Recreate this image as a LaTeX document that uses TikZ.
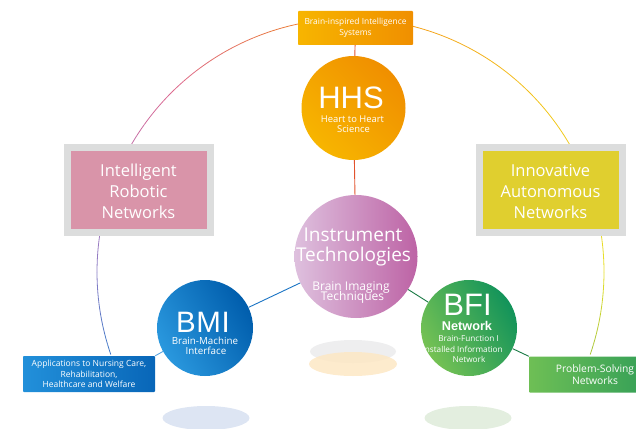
\documentclass[tikz,border=0pt]{standalone}
\usepackage{fontspec}
\setmainfont{Open Sans}
\newfontfamily\headf{Liberation Sans}
\usetikzlibrary{calc}

\definecolor{orgL}{HTML}{F7B500}
\definecolor{orgD}{HTML}{F08F00}
\definecolor{redcon}{HTML}{E2532D}
\definecolor{instL}{HTML}{DEC0DE}
\definecolor{instD}{HTML}{BD63A5}
\definecolor{bmiL}{HTML}{2A98DE}
\definecolor{bmiD}{HTML}{005DAC}
\definecolor{appL}{HTML}{2290DA}
\definecolor{appD}{HTML}{0866B8}
\definecolor{bfiL}{HTML}{76C254}
\definecolor{bfiD}{HTML}{12935A}
\definecolor{psL}{HTML}{6EBF55}
\definecolor{psD}{HTML}{2E9C58}
\definecolor{pinkbox}{HTML}{D994A9}
\definecolor{yelbox}{HTML}{E0CF2F}
\definecolor{frame}{HTML}{DCDDDD}
\definecolor{ringA}{HTML}{A5C43A}
\definecolor{ringB}{HTML}{E6E02A}
\definecolor{ringC}{HTML}{F2C51A}
\definecolor{ringD}{HTML}{F4A21C}
\definecolor{ringE}{HTML}{EA7A3A}
\definecolor{ringF}{HTML}{DC6890}
\definecolor{ringG}{HTML}{B476B8}
\definecolor{ringH}{HTML}{8C7CC4}
\definecolor{ringI}{HTML}{3C78C8}
\definecolor{shBlue}{HTML}{DDE5F3}
\definecolor{shGreen}{HTML}{E3EEDF}
\definecolor{shGrey}{HTML}{EEEEEF}
\definecolor{shOrg}{HTML}{FDE7C4}
\definecolor{bluecon}{HTML}{1B74C4}
\definecolor{bluecon2}{HTML}{5AA5E0}
\definecolor{greencon}{HTML}{1A7A45}

\newcommand\ringpiece[4]{%
  \foreach \i in {0,...,7}{%
    \pgfmathsetmacro\sa{-(#1+(#2-#1)*\i/8)}%
    \pgfmathsetmacro\ea{-(#1+(#2-#1)*(\i+1)/8)}%
    \pgfmathtruncatemacro\pp{100-(\i*100+50)/8}%
    \draw[ringline, draw=#3!\pp!#4] (ctr) ++(\sa:253.5) arc[start angle=\sa, end angle=\ea, radius=253.5];
  }}

\begin{document}
\begin{tikzpicture}[x=1pt,y=-1pt,
  ringline/.style={line width=0.8pt, line cap=butt},
  txt/.style={text=white, inner sep=0pt, anchor=base},
  bigcirc/.style={circle, inner sep=0pt, draw=none},
  conline/.style={line width=0.9pt},
  framebox/.style={rectangle, fill=frame, minimum width=150pt, minimum height=92pt, inner sep=0pt},
  innerbox/.style={rectangle, minimum width=136pt, minimum height=78pt, inner sep=0pt},
  smallbox/.style={rectangle, minimum width=132pt, minimum height=36pt, inner sep=0pt, text=white, align=center, rounded corners=0.8pt},
  boxfont/.style={font=\fontsize{16.5}{21}\selectfont},
  headfont/.style={font=\headf\fontsize{31}{31}\selectfont, text depth=0pt}
]
\useasboundingbox (0,0) rectangle (636,428);
\clip (0,0) rectangle (636,428);

% shadow ellipses
\fill[shBlue] (206,418) ellipse [x radius=43.5, y radius=12];
\fill[shGreen] (468,418) ellipse [x radius=43.5, y radius=12];
\fill[shGrey] (353,351.5) ellipse [x radius=43, y radius=11.5];
\fill[shOrg, opacity=0.85] (353,364) ellipse [x radius=44, y radius=12];

% big ring
\coordinate (ctr) at (350.5,272);
\ringpiece{-19}{0}{ringA}{ringB}
\ringpiece{0}{40}{ringB}{ringC}
\ringpiece{40}{75}{ringC}{ringD}
\ringpiece{75}{105}{ringD}{ringE}
\ringpiece{105}{135}{ringE}{ringF}
\ringpiece{135}{160}{ringF}{ringG}
\ringpiece{160}{180}{ringG}{ringH}
\ringpiece{180}{199}{ringH}{ringI}

% side boxes
\node[framebox] (irnF) at (139,190) {};
\node[innerbox, fill=pinkbox] (irn) at (139,190) {};
\node[txt, boxfont] (irn1) at (138.5,176.7) {Intelligent};
\node[txt, boxfont] (irn2) at (138.5,197.7) {Robotic};
\node[txt, boxfont] (irn3) at (138.5,218.3) {Networks};

\node[framebox] (ianF) at (550.5,190) {};
\node[innerbox, fill=yelbox] (ian) at (551,190) {};
\node[txt, boxfont] (ian1) at (550.5,176.7) {Innovative};
\node[txt, boxfont] (ian2) at (550.5,197.7) {Autonomous};
\node[txt, boxfont] (ian3) at (550.5,218.3) {Networks};

% top box
\node[smallbox, minimum width=115pt, minimum height=34pt, left color=orgL, right color=orgD,
      font=\fontsize{8.4}{10.7}\selectfont] (top) at (355.5,28) {Brain-inspired Intelligence\\Systems};

% HHS
\node[bigcirc, minimum size=104pt, left color=orgL, right color=orgD, shading angle=135] (hhs) at (353.5,108) {};
\node[txt, headfont] (hhsT) at (351,108.3) {HHS};
\node[txt, font=\fontsize{9.4}{10}\selectfont] (hhs1) at (352.5,122.7) {Heart to Heart};
\node[txt, font=\fontsize{9.4}{10}\selectfont] (hhs2) at (353.5,132.7) {Science};

% Instrument
\node[bigcirc, minimum size=123pt, left color=instL, right color=instD] (inst) at (356,256.5) {};
\node[txt, font=\fontsize{19}{20}\selectfont] (inst1) at (353,241.5) {Instrument};
\node[txt, font=\fontsize{19}{20}\selectfont] (inst2) at (353.5,261.7) {Technologies};
\node[txt, font=\fontsize{12}{12}\selectfont, text depth=0pt] (inst3) at (351,290) {Brain Imaging};
\node[txt, font=\fontsize{12}{12}\selectfont] (inst4) at (352.5,300.9) {Techniques};

% BMI
\node[bigcirc, minimum size=96pt, left color=bmiL, right color=bmiD, shading angle=120] (bmi) at (205,328) {};
\node[txt, headfont, font=\headf\fontsize{29.5}{30}\selectfont, text depth=0pt] (bmiT) at (203,332) {B\kern0.5pt M\kern0.8pt I};
\node[txt, font=\fontsize{9.8}{10}\selectfont] (bmi1) at (205,344.8) {Brain-Machine};
\node[txt, font=\fontsize{9.8}{10}\selectfont] (bmi2) at (206,354.2) {Interface};

% BFI
\node[bigcirc, minimum size=96pt, left color=bfiL, right color=bfiD, shading angle=120] (bfi) at (469,328) {};
\node[txt, headfont] (bfiT) at (467.5,315) {BFI};
\node[txt, font=\headf\bfseries\fontsize{12.7}{13}\selectfont] (bfi1) at (467,330) {Network};
\node[txt, font=\fontsize{8.2}{9}\selectfont] (bfi2) at (468.5,341.6) {Brain-Function I};
\node[txt, font=\fontsize{8.2}{9}\selectfont] (bfi3) at (463.8,352.2) {nstalled Information};
\node[txt, font=\fontsize{8.2}{9}\selectfont] (bfi4) at (469,362.6) {Network};

% bottom boxes
\node[smallbox, left color=appL, right color=appD, font=\fontsize{8.5}{10.3}\selectfont] (app) at (89,374)
  {Applications to Nursing Care,\\Rehabilitation,\\Healthcare and Welfare};
\node[smallbox, left color=psL, right color=psD, font=\fontsize{10.3}{9.3}\selectfont] (ps) at (595,374.5)
  {Problem-Solving\\Networks};

% connectors
\draw[conline, redcon] (top) -- (hhs);
\draw[conline, redcon] (hhs) -- (inst);
\draw[conline, bluecon] (inst) -- (bmi);
\draw[conline, bluecon2] (bmi) -- (app.north east);
\draw[conline, greencon] (inst) -- (bfi);
\draw[conline, greencon] (bfi) -- (ps.north west);
\end{tikzpicture}
\end{document}
